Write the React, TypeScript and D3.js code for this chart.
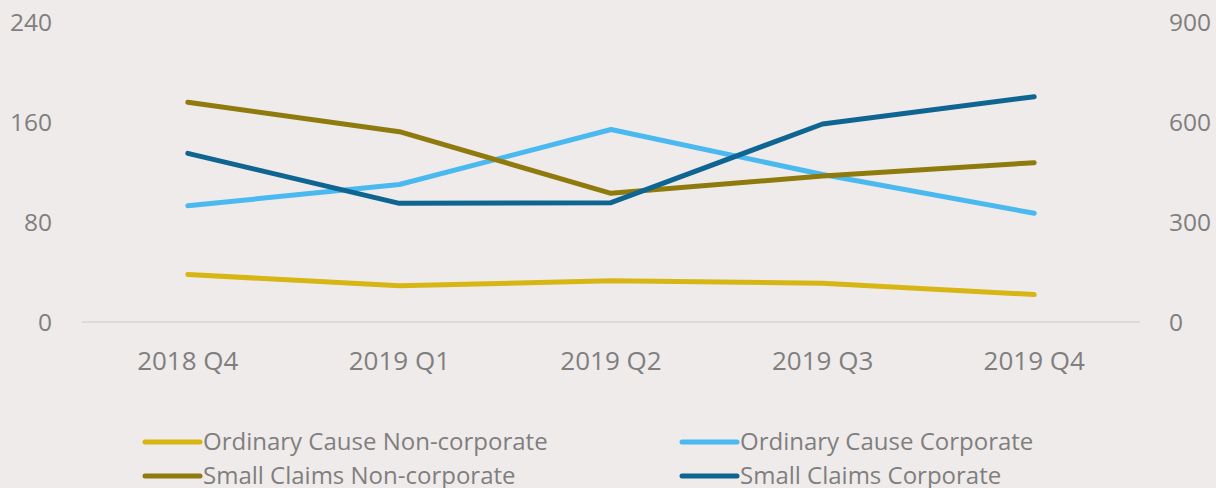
import React from "react";
import * as d3 from "d3";

const categories = ["2018 Q4", "2019 Q1", "2019 Q2", "2019 Q3", "2019 Q4"];
const ordinaryNonCorp = [38, 29, 33, 31, 22];
const ordinaryCorp = [93, 110, 154, 118, 87];
const smallNonCorp = [659, 571, 386, 438, 478];
const smallCorp = [506, 356, 358, 594, 676];
const leftTicks = [0, 80, 160, 240];
const rightTicks = [0, 300, 600, 900];

const series = [
  { name: "Ordinary Cause Non-corporate", values: ordinaryNonCorp, axis: "left", color: "#D7B614" },
  { name: "Ordinary Cause Corporate", values: ordinaryCorp, axis: "left", color: "#49B9EF" },
  { name: "Small Claims Non-corporate", values: smallNonCorp, axis: "right", color: "#8F7A0E" },
  { name: "Small Claims Corporate", values: smallCorp, axis: "right", color: "#0F6592" },
];

const W = 1216;
const H = 488;
const FONT = "'Open Sans', sans-serif";
const TEXT = "#7F7F7F";

export default function App() {
  const x = d3.scaleBand<string>().domain(categories).range([82, 1140]);
  const yL = d3.scaleLinear().domain([0, 240]).range([322, 22]);
  const yR = d3.scaleLinear().domain([0, 900]).range([322, 22]);
  const cx = (c: string) => (x(c) as number) + x.bandwidth() / 2;

  const legendPos = [
    { lx: 145, ly: 442 },
    { lx: 682, ly: 442 },
    { lx: 145, ly: 476 },
    { lx: 682, ly: 476 },
  ];

  return (
    <div style={{ position: "absolute", left: 0, top: 0 }}>
      <svg width={W} height={H} style={{ display: "block", background: "#EFEBEA" }}>
        <rect x={0} y={0} width={W} height={H} fill="#EFEBEA" />
        <line x1={82} x2={1140} y1={yL(0)} y2={yL(0)} stroke="#DEDAD9" strokeWidth={2} />
        {leftTicks.map((t) => (
          <text key={"l" + t} x={52} y={yL(t)} dy="0.35em" textAnchor="end" fontFamily={FONT} fontSize={24.5} fill={TEXT}>
            {t}
          </text>
        ))}
        {rightTicks.map((t) => (
          <text key={"r" + t} x={1169} y={yR(t)} dy="0.35em" textAnchor="start" fontFamily={FONT} fontSize={24.5} fill={TEXT}>
            {t}
          </text>
        ))}
        {categories.map((c) => (
          <text key={c} x={cx(c)} y={361} dy="0.35em" textAnchor="middle" fontFamily={FONT} fontSize={26} fill={TEXT}>
            {c}
          </text>
        ))}
        {series.map((s) => {
          const ys = s.axis === "left" ? yL : yR;
          const line = d3
            .line<number>()
            .x((_, i) => cx(categories[i]))
            .y((v) => ys(v));
          return (
            <path
              key={s.name}
              d={line(s.values) || ""}
              fill="none"
              stroke={s.color}
              strokeWidth={5}
              strokeLinecap="round"
              strokeLinejoin="round"
            />
          );
        })}
        {series.map((s, i) => {
          const p = legendPos[i];
          return (
            <g key={"lg" + s.name}>
              <line x1={p.lx} x2={p.lx + 55} y1={p.ly} y2={p.ly} stroke={s.color} strokeWidth={5} strokeLinecap="round" />
              <text x={p.lx + 58} y={p.ly} dy="0.35em" fontFamily={FONT} fontSize={24} fill={TEXT}>
                {s.name}
              </text>
            </g>
          );
        })}
      </svg>
    </div>
  );
}
